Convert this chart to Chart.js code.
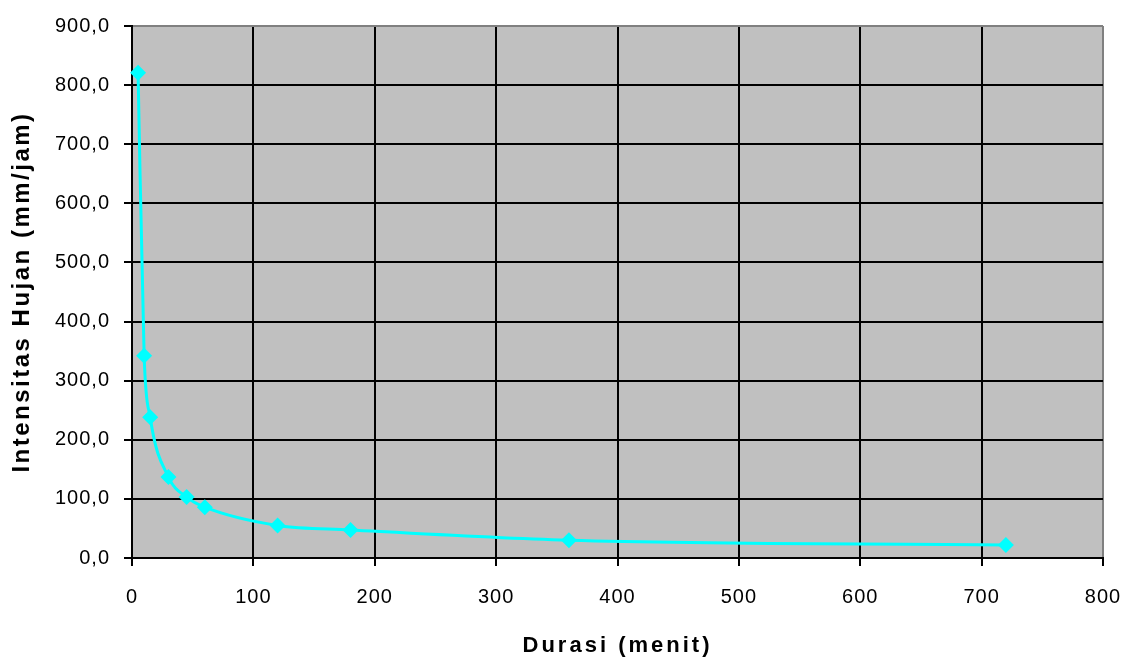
<!DOCTYPE html>
<html>
<head>
<meta charset="utf-8">
<script src="https://cdn.jsdelivr.net/npm/chart.js@4/dist/chart.umd.min.js"></script>
<style>
  body { margin: 0; background: #fff; }
</style>
</head>
<body>
<canvas id="myChart" width="1129" height="664"></canvas>
<script>
// durasi (menit) vs intensitas hujan (mm/jam)
const durasi = [5, 10, 15, 30, 45, 60, 120, 180, 360, 720]
const intensitas = [821, 342, 238, 137, 103, 86, 55, 47.5, 30, 22]
const xTicks = [0, 100, 200, 300, 400, 500, 600, 700, 800]
const yTicks = [0, 100, 200, 300, 400, 500, 600, 700, 800, 900]

const points = durasi.map((d, i) => ({ x: d, y: intensitas[i] }))

// grey plot area
const plotBg = {
    id: 'plotBg',
    beforeDraw(chart) {
        const { ctx, chartArea: a } = chart
        ctx.save()
        ctx.fillStyle = '#c0c0c0'
        ctx.fillRect(a.left, a.top, a.right - a.left, a.bottom - a.top)
        ctx.restore()
    }
}

// the original text is a bit spread out
const spacing = {
    id: 'spacing',
    afterLayout(chart) {
        Object.values(chart.scales).forEach(s => {
            if (s._spaced) return
            s._spaced = true
            const wrap = (fn, sp) => function (...args) {
                const old = this.ctx.letterSpacing
                this.ctx.letterSpacing = sp
                fn.apply(this, args)
                this.ctx.letterSpacing = old
            }
            s.drawTitle = wrap(s.drawTitle, s.axis === 'y' ? '2.5px' : '3px')
            s.drawLabels = wrap(s.drawLabels, '1px')
        })
    }
}

const font = 'Liberation Sans, Arial, sans-serif'

const ctx = document.getElementById('myChart').getContext('2d')
const myChart = new Chart(ctx, {
    type: 'line',
    data: {
        datasets: [{
            data: points,
            borderColor: '#00ffff',
            backgroundColor: '#00ffff',
            borderWidth: 3,
            pointStyle: 'rectRot',
            pointRadius: 8,
            pointBorderWidth: 0,
            cubicInterpolationMode: 'monotone',
            clip: false
        }]
    },
    options: {
        responsive: false,
        animation: false,
        layout: { padding: { left: 0, top: 23, right: 26, bottom: 0 } },
        plugins: { legend: { display: false }, tooltip: { enabled: false } },
        scales: {
            x: {
                type: 'linear',
                min: 0,
                max: 800,
                afterFit: s => {
                    s.height = 106
                    s.paddingLeft = 0
                    s.paddingRight = 0
                },
                afterBuildTicks: s => { s.ticks = xTicks.map(v => ({ value: v })) },
                ticks: { color: '#000', font: { family: font, size: 20 }, padding: 19 },
                grid: {
                    color: c => c.tick && c.tick.value === 800 ? '#808080' : '#000',
                    lineWidth: 2,
                    tickLength: 8,
                    tickColor: '#000',
                    tickWidth: 2
                },
                border: { color: '#000', width: 2 },
                title: {
                    display: true,
                    text: 'Durasi (menit)',
                    color: '#000',
                    font: { family: font, size: 22, weight: 'bold' },
                    padding: { bottom: 5 }
                }
            },
            y: {
                min: 0,
                max: 900,
                afterFit: s => { s.width = 132 },
                afterBuildTicks: s => { s.ticks = yTicks.map(v => ({ value: v })) },
                ticks: {
                    color: '#000',
                    font: { family: font, size: 20 },
                    padding: 14,
                    callback: v => v.toFixed(1).replace('.', ',')
                },
                grid: {
                    color: c => c.tick && c.tick.value === 900 ? '#808080' : '#000',
                    lineWidth: 2,
                    tickLength: 8,
                    tickColor: '#000',
                    tickWidth: 2
                },
                border: { color: '#000', width: 2 },
                title: {
                    display: true,
                    text: 'Intensitas Hujan (mm/jam)',
                    color: '#000',
                    font: { family: font, size: 24, weight: 'bold' },
                    padding: { top: 8 }
                }
            }
        }
    },
    plugins: [plotBg, spacing]
})
</script>
</body>
</html>
